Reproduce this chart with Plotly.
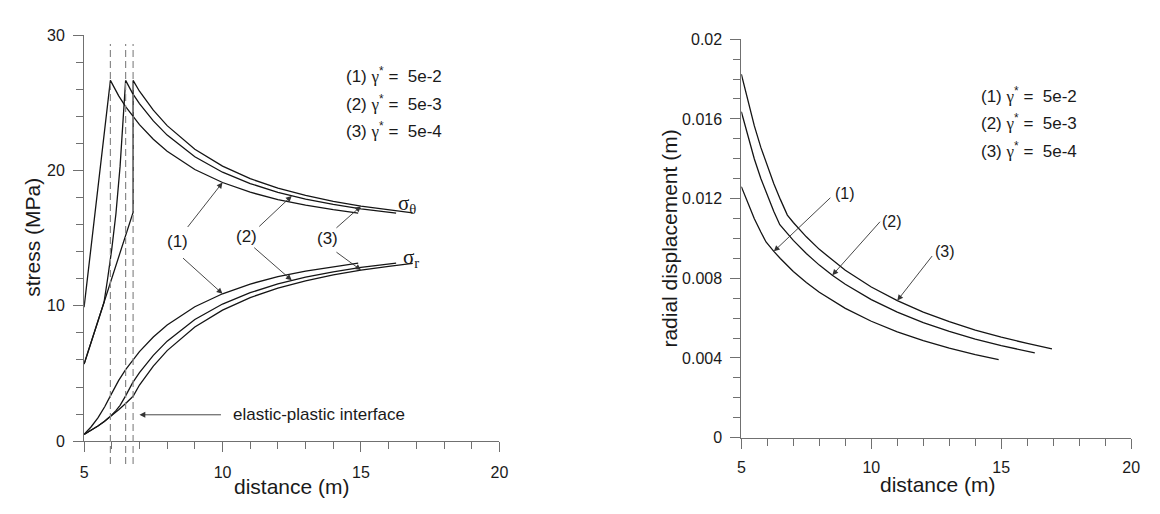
import plotly.graph_objects as go

# ---------------- data ----------------
# left panel: stress vs distance, three softening parameters
r1 = [5.0, 5.25, 5.5, 5.75, 5.95, 6.25, 6.5, 7.0, 7.5, 8.0, 9.0, 10.0, 11.0, 12.0, 13.0, 14.0, 14.9]
s_theta1 = [9.9, 14.3, 18.7, 23.1, 26.65, 25.51, 24.72, 23.38, 22.30, 21.42, 20.07, 19.11, 18.39, 17.85, 17.43, 17.10, 16.85]
s_r1 = [0.5, 1.05, 1.72, 2.56, 3.35, 4.49, 5.28, 6.62, 7.70, 8.58, 9.93, 10.89, 11.61, 12.15, 12.57, 12.90, 13.15]

r2 = [5.0, 5.25, 5.5, 5.72, 5.85, 6.0, 6.15, 6.3, 6.5, 6.75, 7.0, 7.5, 8.0, 9.0, 10.0, 11.0, 12.0, 12.5, 13.0, 14.0, 15.0, 16.27]
s_theta2 = [5.7, 7.28, 8.87, 10.26, 12.0, 14.2, 16.8, 20.3, 26.65, 25.69, 24.94, 23.66, 22.61, 21.01, 19.87, 19.03, 18.38, 18.12, 17.88, 17.49, 17.16, 16.84]
s_r2 = [0.5, 0.785, 1.12, 1.44, 1.65, 1.93, 2.26, 2.65, 3.35, 4.31, 5.06, 6.34, 7.39, 8.99, 10.13, 10.97, 11.62, 11.88, 12.12, 12.51, 12.84, 13.16]

r3 = [5.0, 5.25, 5.5, 5.75, 6.0, 6.25, 6.5, 6.77, 6.77, 7.0, 7.5, 8.0, 9.0, 10.0, 11.0, 12.0, 13.0, 14.0, 15.0, 16.0, 16.87]
s_theta3 = [5.7, 7.28, 8.87, 10.45, 12.03, 13.61, 15.19, 16.9, 26.65, 25.85, 24.45, 23.31, 21.56, 20.32, 19.39, 18.69, 18.15, 17.71, 17.36, 17.08, 16.87]
s_r3 = [0.5, 0.785, 1.12, 1.49, 1.89, 2.33, 2.79, 3.32, 3.32, 4.15, 5.55, 6.69, 8.44, 9.68, 10.61, 11.31, 11.85, 12.29, 12.64, 12.92, 13.13]

# elastic-plastic interface radii
r_interface = [5.95, 6.5, 6.77]

# right panel: radial displacement vs distance
ur1 = [5.0, 5.25, 5.5, 5.75, 5.95, 6.25, 6.5, 7.0, 7.5, 8.0, 9.0, 10.0, 11.0, 12.0, 13.0, 14.0, 14.9]
u1 = [0.0126, 0.01175, 0.01099, 0.01032, 0.00982, 0.00935, 0.00899, 0.00834, 0.00779, 0.00730, 0.00649, 0.00584, 0.00531, 0.00487, 0.00449, 0.00417, 0.00392]
ur2 = [5.0, 5.25, 5.5, 5.75, 6.0, 6.25, 6.48, 7.0, 7.5, 8.0, 8.5, 9.0, 10.0, 11.0, 12.0, 13.0, 14.0, 15.0, 16.29]
u2 = [0.01636, 0.0151, 0.01399, 0.01301, 0.01213, 0.01135, 0.01069, 0.00990, 0.00924, 0.00866, 0.00815, 0.00770, 0.00693, 0.00630, 0.00577, 0.00533, 0.00495, 0.00462, 0.00425]
ur3 = [5.0, 5.25, 5.5, 5.75, 6.0, 6.25, 6.5, 6.77, 7.0, 7.5, 8.0, 9.0, 10.0, 11.0, 12.0, 13.0, 14.0, 15.0, 16.0, 16.95]
u3 = [0.01825, 0.01687, 0.01565, 0.01457, 0.01361, 0.01274, 0.01196, 0.01117, 0.0108, 0.01008, 0.00945, 0.00840, 0.00756, 0.00688, 0.00630, 0.00582, 0.00540, 0.00504, 0.00473, 0.00446]

legend_labels = ["(1)", "(2)", "(3)"]
gamma_values = ["5e-2", "5e-3", "5e-4"]

x_ticks = [5, 10, 15, 20]
stress_ticks = [0, 10, 20, 30]
disp_ticks = [0, 0.004, 0.008, 0.012, 0.016, 0.02]
disp_ticklabels = ["0", "0.004", "0.008", "0.012", "0.016", "0.02"]

# ---------------- styling ----------------
W, H = 1160, 514
SANS = "Liberation Sans, Arial, sans-serif"
SERIF = "Liberation Serif, Times New Roman, serif"
LINE = dict(color="#151515", width=1.3)
AXC = "#707070"
TXT = "#1a1a1a"
ARR = "#333333"

fig = go.Figure()

for xs, ys in [(r1, s_theta1), (r1, s_r1), (r2, s_theta2), (r2, s_r2), (r3, s_theta3), (r3, s_r3)]:
    fig.add_trace(go.Scatter(x=xs, y=ys, mode="lines", line=LINE, xaxis="x", yaxis="y",
                             hoverinfo="skip"))
for xs, ys in [(ur1, u1), (ur2, u2), (ur3, u3)]:
    fig.add_trace(go.Scatter(x=xs, y=ys, mode="lines", line=LINE, xaxis="x2", yaxis="y2",
                             hoverinfo="skip"))

# dashed interface lines
for rp in r_interface:
    fig.add_shape(type="line", xref="x", yref="y domain", x0=rp, x1=rp, y0=-0.056, y1=0.978,
                  line=dict(color="#8a8a8a", width=1.2, dash="7px,4px"))


def axis_common(domain, rng, tickvals, ticktext, minor_dtick, standoff):
    return dict(domain=domain, range=rng, showgrid=False, zeroline=False, showline=True,
                linecolor=AXC, linewidth=1, ticks="outside", ticklen=10, tickwidth=1,
                tickcolor=AXC, tickvals=tickvals, ticktext=ticktext,
                ticklabelstandoff=standoff,
                tickfont=dict(family=SANS, size=16, color=TXT),
                minor=dict(ticks="outside", ticklen=7, tickwidth=1, tickcolor=AXC,
                           dtick=minor_dtick, tick0=rng[0], showgrid=False))


fig.update_layout(
    width=W, height=H, margin=dict(l=0, r=0, t=0, b=0),
    paper_bgcolor="white", plot_bgcolor="white", showlegend=False,
    xaxis=dict(**axis_common([81 / W, 501 / W], [5, 20], x_ticks, [str(v) for v in x_ticks], 1, 7),
               anchor="y"),
    yaxis=dict(**axis_common([1 - 448 / H, 1 - 28 / H], [0, 30], stress_ticks,
                             [str(v) for v in stress_ticks], 2, 5), anchor="x"),
    xaxis2=dict(**axis_common([745.7 / W, 1140 / W], [5, 20], x_ticks, [str(v) for v in x_ticks], 1, 5),
                anchor="y2"),
    yaxis2=dict(**axis_common([1 - 444.3 / H, 1 - 32.3 / H], [0, 0.02], disp_ticks,
                              disp_ticklabels, 0.001, 5), anchor="x2"),
)


def label(text, xref, yref, x, y, size, family=SANS, xanchor="center", angle=0):
    return dict(text=text, xref=xref, yref=yref, x=x, y=y, xanchor=xanchor, yanchor="middle",
                textangle=angle, showarrow=False, font=dict(family=family, size=size, color=TXT))


ann = []
# axis titles
ann.append(label("distance (m)", "paper", "paper", 291 / W, 1 - 495 / H, 21))
ann.append(label("distance (m)", "paper", "paper", 945 / W, 1 - 493 / H, 21))
ann.append(label("stress (MPa)", "paper", "paper", 28 / W, 1 - 237 / H, 21, angle=-90))
ann.append(label("radial displacement (m)", "paper", "paper", 673 / W, 1 - 238 / H, 21, angle=-90))


def gamma_text(lbl, val):
    return (lbl + " <span style='font-family:Liberation Serif'>γ</span><sup>*</sup> =\u00a0 " + val)


left_leg_y = [27.07, 25.0, 23.0]
right_leg_y = [0.0172, 0.01583, 0.01445]
for i in range(3):
    ann.append(label(gamma_text(legend_labels[i], gamma_values[i]), "x", "y", 14.37,
                     left_leg_y[i], 17, xanchor="left"))
    ann.append(label(gamma_text(legend_labels[i], gamma_values[i]), "x2", "y2", 14.16,
                     right_leg_y[i], 17, xanchor="left"))

# sigma labels
ann.append(label("σ<sub>θ</sub>", "x", "y", 16.27, 17.5, 21, family=SERIF, xanchor="left"))
ann.append(label("σ<sub>r</sub>", "x", "y", 16.45, 13.5, 21, family=SERIF, xanchor="left"))

# curve labels in left panel
left_lab_pos = [(8.36, 14.74), (10.86, 15.09), (13.78, 14.98)]
for i in range(3):
    ann.append(label(legend_labels[i], "x", "y", left_lab_pos[i][0], left_lab_pos[i][1], 17))


def arrow(xref, yref, x, y, ax, ay):
    return dict(text="", xref=xref, yref=yref, x=x, y=y, ax=ax, ay=ay, showarrow=True,
                arrowhead=2, arrowsize=1.3, arrowwidth=0.9, arrowcolor=ARR)


# left arrows: tips on data points
ann.append(arrow("x", "y", r1[11], s_theta1[11], -36, 46))
ann.append(arrow("x", "y", r1[11], s_r1[11], -41, -37))
ann.append(arrow("x", "y", r2[17], s_theta2[17], -34, 32))
ann.append(arrow("x", "y", r2[17], s_r2[17], -39, -34))
ann.append(arrow("x", "y", r3[18], s_theta3[18], -26, 23))
ann.append(arrow("x", "y", r3[18], s_r3[18], -26, -19))

# elastic-plastic interface
ann.append(arrow("x", "y", 7.0, 1.95, 83, 0))
ann.append(label("elastic-plastic interface", "x", "y", 10.3, 1.95, 17, xanchor="left"))

# right panel labels and arrows
right_lab_pos = [(8.97, 0.01225), (10.80, 0.01085), (12.83, 0.00932)]
for i in range(3):
    ann.append(label(legend_labels[i], "x2", "y2", right_lab_pos[i][0], right_lab_pos[i][1], 16))
ann.append(arrow("x2", "y2", ur1[5], u1[5], 58, -55))
ann.append(arrow("x2", "y2", ur2[10], u2[10], 49, -55))
ann.append(arrow("x2", "y2", ur3[13], u3[13], 36, -46))

fig.update_layout(annotations=ann)
fig.write_html("out.html")
